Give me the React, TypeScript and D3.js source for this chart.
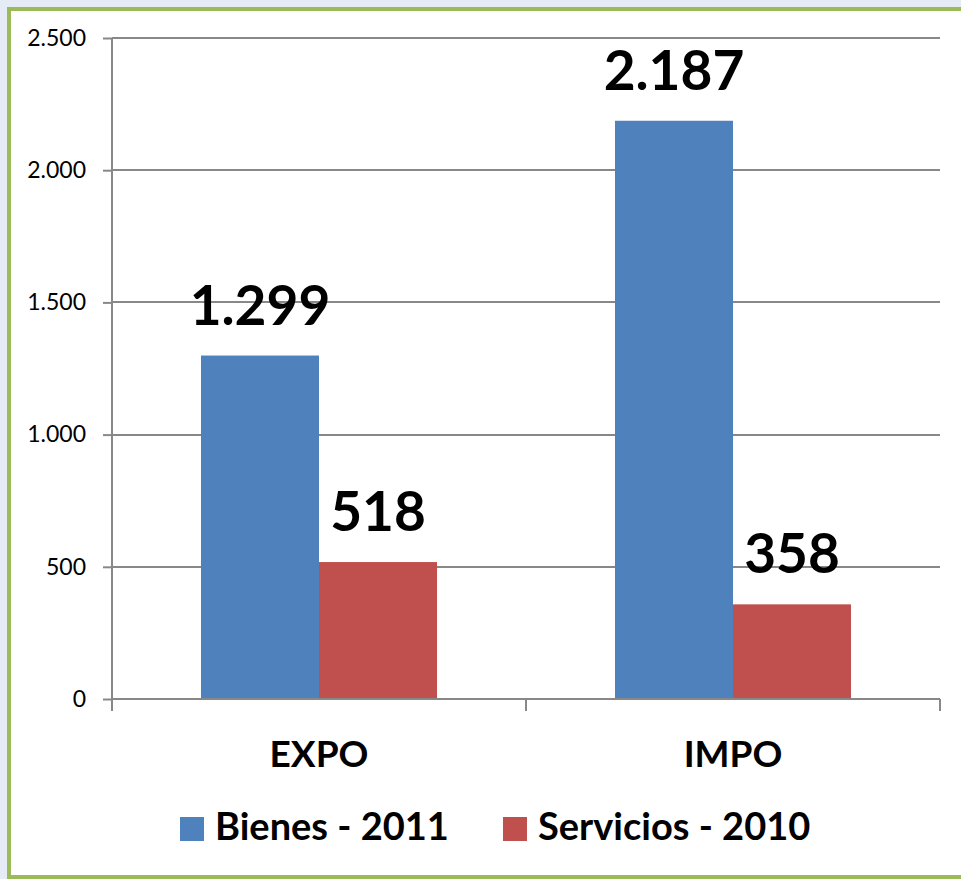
import * as d3 from 'd3';
import { useEffect, useRef } from 'react';

const categories = ['EXPO', 'IMPO'];
const seriesNames = ['Bienes - 2011', 'Servicios - 2010'];
const bienes = [1299, 2187];
const servicios = [518, 358];
const yTicks = [0, 500, 1000, 1500, 2000, 2500];
const colors = ['#4f81bd', '#c0504d'];

const W = 961;
const H = 879;
const FONT = 'Lato, "Open Sans", sans-serif';

export default function App() {
  const svgRef = useRef<SVGSVGElement>(null);

  useEffect(() => {
    document.body.style.margin = '0';
    if (!svgRef.current) return;
    const svg = d3.select(svgRef.current);
    svg.selectAll('*').remove();

    const locale = d3.formatLocale({
      decimal: ',',
      thousands: '.',
      grouping: [3],
      currency: ['', ''],
    });
    const fmt = locale.format(',');

    // page background and green frame
    svg.append('rect').attr('width', W).attr('height', H).attr('fill', '#e6ecf6');
    svg
      .append('rect')
      .attr('x', 9)
      .attr('y', 9)
      .attr('width', W + 20)
      .attr('height', 868)
      .attr('fill', '#ffffff')
      .attr('stroke', '#9bbb59')
      .attr('stroke-width', 4);

    const plot = { left: 112, right: 940, top: 38, bottom: 699 };

    const x0 = d3
      .scaleBand()
      .domain(categories)
      .range([plot.left, plot.right])
      .padding(0);
    const x1 = d3
      .scaleBand()
      .domain(seriesNames)
      .range([0, x0.bandwidth()])
      .paddingInner(0)
      .paddingOuter(0.754);
    const y = d3.scaleLinear().domain([0, 2500]).range([plot.bottom, plot.top]);

    const values = [bienes, servicios];
    const gridColor = '#888888';

    // gridlines
    svg
      .append('g')
      .selectAll('line')
      .data(yTicks.filter((t) => t > 0))
      .enter()
      .append('line')
      .attr('x1', plot.left)
      .attr('x2', plot.right)
      .attr('y1', (d) => Math.round(y(d)))
      .attr('y2', (d) => Math.round(y(d)))
      .attr('stroke', gridColor)
      .attr('stroke-width', 2);

    // y axis
    const yAxis = svg
      .append('g')
      .attr('transform', `translate(${plot.left},0)`)
      .call(
        d3
          .axisLeft(y)
          .tickValues(yTicks)
          .tickSize(9)
          .tickPadding(17)
          .tickFormat((d) => fmt(d as number)),
      );
    yAxis.select('.domain').remove();
    yAxis.selectAll('line').attr('stroke', gridColor).attr('stroke-width', 2);
    yAxis
      .selectAll('text')
      .attr('fill', '#000')
      .style('font-family', FONT)
      .style('font-size', '23px');
    svg
      .append('line')
      .attr('x1', plot.left)
      .attr('x2', plot.left)
      .attr('y1', plot.top)
      .attr('y2', plot.bottom)
      .attr('stroke', gridColor)
      .attr('stroke-width', 2);

    // bars
    seriesNames.forEach((s, si) => {
      svg
        .append('g')
        .selectAll('rect')
        .data(values[si])
        .enter()
        .append('rect')
        .attr('x', (d, i) => (x0(categories[i]) || 0) + (x1(s) || 0))
        .attr('y', (d) => y(d))
        .attr('width', x1.bandwidth())
        .attr('height', (d) => y(0) - y(d))
        .attr('fill', colors[si]);

      svg
        .append('g')
        .selectAll('text')
        .data(values[si])
        .enter()
        .append('text')
        .attr('x', (d, i) => (x0(categories[i]) || 0) + (x1(s) || 0) + x1.bandwidth() / 2)
        .attr('y', (d) => y(d) - 31)
        .attr('text-anchor', 'middle')
        .style('font-family', FONT)
        .style('font-weight', 'bold')
        .style('font-size', '55px')
        .text((d) => fmt(d));
    });

    // x axis
    svg
      .append('line')
      .attr('x1', plot.left)
      .attr('x2', plot.right)
      .attr('y1', plot.bottom)
      .attr('y2', plot.bottom)
      .attr('stroke', gridColor)
      .attr('stroke-width', 2);
    const bounds = [plot.left, ...categories.map((c) => (x0(c) || 0) + x0.bandwidth())];
    svg
      .append('g')
      .selectAll('line')
      .data(bounds)
      .enter()
      .append('line')
      .attr('x1', (d) => d)
      .attr('x2', (d) => d)
      .attr('y1', plot.bottom)
      .attr('y2', plot.bottom + 12)
      .attr('stroke', gridColor)
      .attr('stroke-width', 2);
    svg
      .append('g')
      .selectAll('text')
      .data(categories)
      .enter()
      .append('text')
      .attr('x', (d) => (x0(d) || 0) + x0.bandwidth() / 2)
      .attr('y', 767)
      .attr('text-anchor', 'middle')
      .style('font-family', FONT)
      .style('font-weight', 'bold')
      .style('font-size', '37px')
      .text((d) => d);

    // legend
    const legendX = [180, 503];
    const lg = svg
      .append('g')
      .selectAll('g')
      .data(seriesNames)
      .enter()
      .append('g')
      .attr('transform', (d, i) => `translate(${legendX[i]},817)`);
    lg.append('rect')
      .attr('width', 24)
      .attr('height', 24)
      .attr('fill', (d, i) => colors[i]);
    lg.append('text')
      .attr('x', 35)
      .attr('y', 23)
      .style('font-family', FONT)
      .style('font-weight', 'bold')
      .style('font-size', '38px')
      .text((d) => d);
  }, []);

  return <svg ref={svgRef} width={W} height={H} style={{ display: 'block' }} />;
}
